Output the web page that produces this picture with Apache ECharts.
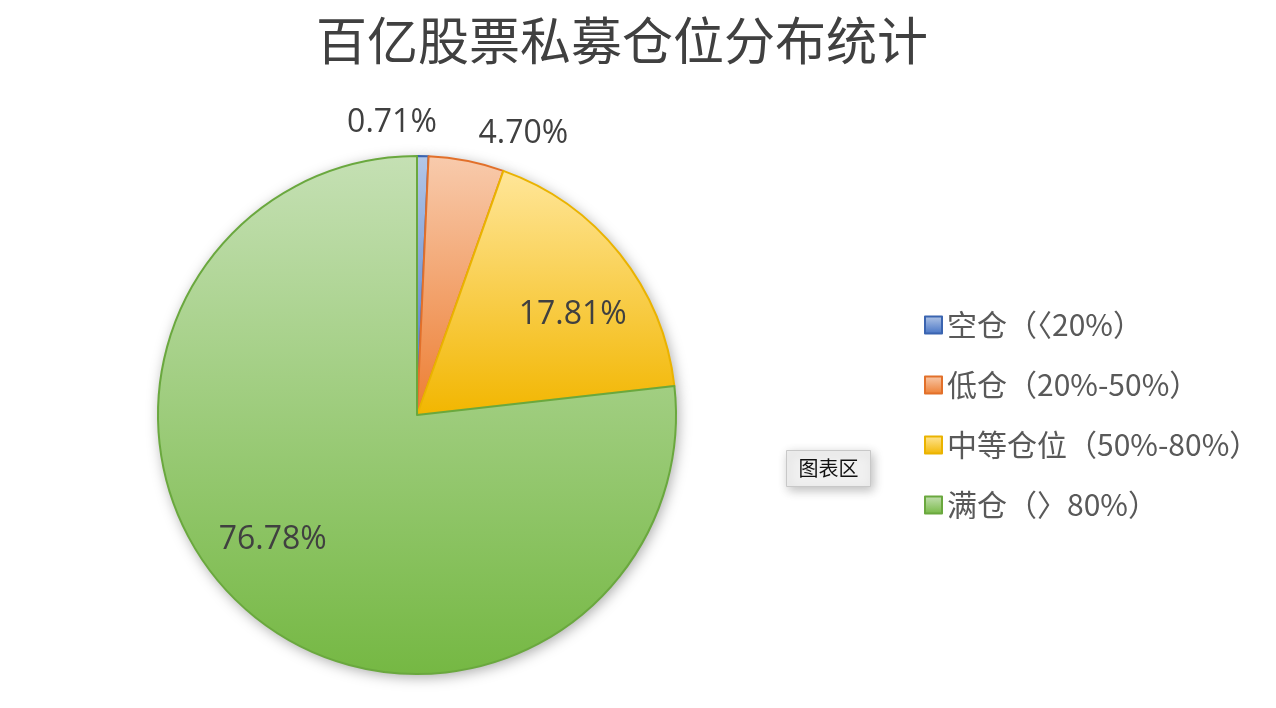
<!DOCTYPE html>
<html>
<head>
<meta charset="utf-8">
<script src="https://cdn.jsdelivr.net/npm/echarts@6/dist/echarts.min.js"></script>
<style>
html,body{margin:0;padding:0;background:#fff;}
#chart{width:1276px;height:708px;}
</style>
</head>
<body>
<div id="chart"></div>
<script>
const titleText = '百亿股票私募仓位分布统计';
const categories = ['空仓（〈20%）', '低仓（20%-50%）', '中等仓位（50%-80%）', '满仓（〉80%）'];
const values = [0.71, 4.70, 17.81, 76.78];
const lightColors = ['#b4c7e7', '#f8cbad', '#ffe699', '#c5e0b4'];
const darkColors = ['#4472c4', '#ed7d31', '#f2b600', '#75b843'];
const borderColors = ['#3a64b0', '#e2702a', '#eab300', '#6aa83e'];
const labelShift = [[-28, -160], [81, -151], [52, -18], [-56, 26]];

const chart = echarts.init(document.getElementById('chart'));

const pieData = categories.map((name, i) => ({
  name: name,
  value: values[i],
  itemStyle: {
    color: new echarts.graphic.LinearGradient(0, 0, 0, 1, [
      { offset: 0, color: lightColors[i] },
      { offset: 1, color: darkColors[i] }
    ]),
    borderColor: borderColors[i],
    borderWidth: 2
  }
}));

const option = {
  backgroundColor: '#ffffff',
  animation: false,
  title: {
    text: titleText,
    top: 10,
    left: 617,
    textAlign: 'center',
    textStyle: {
      fontFamily: 'Noto Sans CJK SC',
      fontSize: 51,
      fontWeight: 'normal',
      color: '#404040'
    }
  },
  legend: {
    orient: 'vertical',
    left: 919,
    top: 305,
    itemWidth: 17,
    itemHeight: 17,
    itemGap: 30,
    icon: 'rect',
    data: categories,
    textStyle: {
      fontFamily: 'Noto Sans CJK SC',
      fontSize: 30,
      color: '#595959',
      padding: [0, 0, 0, 0]
    }
  },
  series: [
    {
      name: 'shadow',
      type: 'pie',
      silent: true,
      z: 1,
      center: [417, 415],
      radius: 259,
      startAngle: 90,
      clockwise: true,
      label: { show: false },
      labelLine: { show: false },
      legendHoverLink: false,
      data: values.map(v => ({ value: v })),
      itemStyle: {
        color: '#ffffff',
        borderWidth: 0,
        shadowBlur: 14,
        shadowOffsetX: 2,
        shadowOffsetY: 3,
        shadowColor: 'rgba(0,0,0,0.35)'
      }
    },
    {
      name: '仓位',
      type: 'pie',
      z: 2,
      center: [417, 415],
      radius: 259,
      startAngle: 90,
      clockwise: true,
      data: pieData,
      label: {
        show: true,
        position: 'inside',
        formatter: p => p.value.toFixed(2) + '%',
        fontFamily: 'Open Sans',
        fontSize: 32,
        color: '#404040'
      },
      labelLine: { show: false },
      labelLayout: function (params) {
        const s = labelShift[params.dataIndex] || [0, 0];
        return { dx: s[0], dy: s[1] };
      }
    }
  ],
  graphic: [
    {
      type: 'group',
      left: 786,
      top: 450,
      children: [
        {
          type: 'rect',
          shape: { x: 0, y: 0, width: 84, height: 36 },
          style: {
            fill: '#f0f0f0',
            stroke: '#c8c8c8',
            lineWidth: 1,
            shadowBlur: 10,
            shadowOffsetX: 2,
            shadowOffsetY: 3,
            shadowColor: 'rgba(0,0,0,0.25)'
          }
        },
        {
          type: 'text',
          style: {
            x: 42,
            y: 18,
            text: '图表区',
            fontFamily: 'Noto Sans CJK SC',
            fontSize: 20,
            fill: '#111111',
            align: 'center',
            verticalAlign: 'middle'
          }
        }
      ]
    }
  ]
};

chart.setOption(option);
</script>
</body>
</html>
